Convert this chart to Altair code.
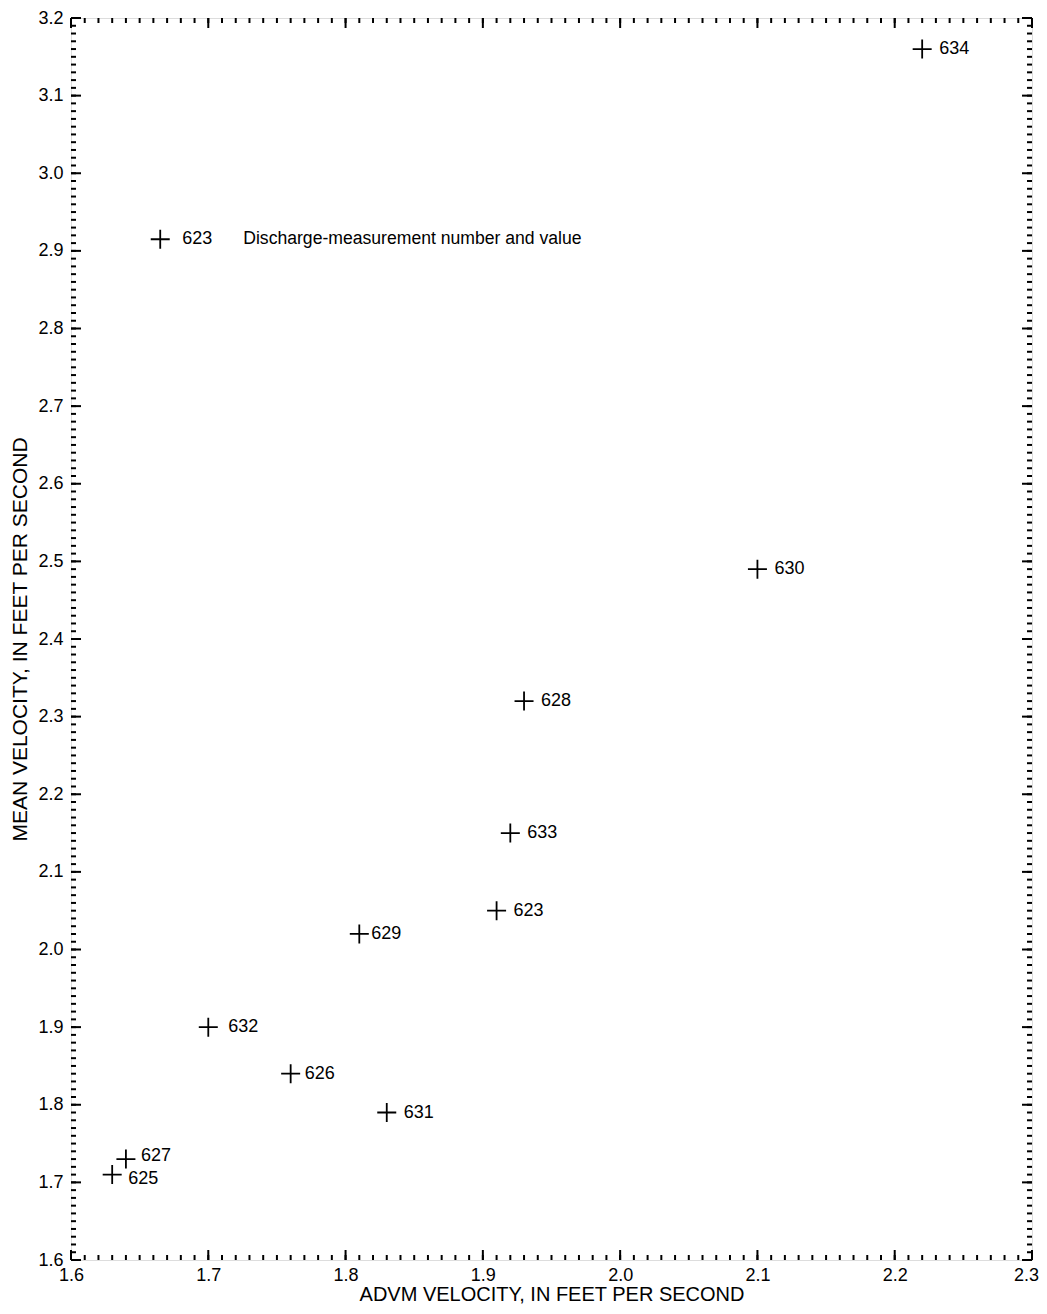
import altair as alt
import pandas as pd

# Discharge measurements
meas_id = ["634", "630", "628", "633", "623", "629", "632", "626", "631", "627", "625"]
advm_vel = [2.22, 2.10, 1.93, 1.92, 1.91, 1.81, 1.70, 1.76, 1.83, 1.64, 1.63]
mean_vel = [3.16, 2.49, 2.32, 2.15, 2.05, 2.02, 1.90, 1.84, 1.79, 1.73, 1.71]

# Explanation (legend) entry
legend_id = ["623"]
legend_x = [1.665]
legend_y = [2.915]
legend_text = ["Discharge-measurement number and value"]

# Axis ticks
x_major = [round(1.6 + 0.1 * i, 2) for i in range(8)]
x_minor = [round(1.6 + 0.01 * i, 2) for i in range(71)]
y_major = [round(1.6 + 0.1 * i, 2) for i in range(17)]
y_minor = [round(1.6 + 0.01 * i, 2) for i in range(161)]

W, H = 961, 1242
FONT = "Liberation Sans"

df = pd.DataFrame({"id": meas_id, "x": advm_vel, "y": mean_vel})
leg = pd.DataFrame({"id": legend_id, "x": legend_x, "y": legend_y, "txt": legend_text})

xs = alt.Scale(domain=[1.6, 2.3], nice=False, zero=False)
ys = alt.Scale(domain=[1.6, 3.2], nice=False, zero=False)

cross = "M-1,0H1M0,-1V1"

xaxis = alt.Axis(values=x_major, format=".1f", ticks=False, tickSize=0, domain=False, grid=False,
                 labelFlush=False, labelFontSize=18, labelFont=FONT, labelColor="black",
                 labelOffset={"expr": "datum.value > 2.25 ? -6 : 0"},
                 labelPadding=6, title="ADVM VELOCITY, IN FEET PER SECOND",
                 titleFont=FONT, titleFontSize=20, titleFontWeight="normal", titleColor="black",
                 titlePadding=0)
yaxis = alt.Axis(values=y_major, format=".1f", ticks=False, tickSize=0, domain=False, grid=False,
                 labelFlush=False, labelFontSize=18, labelFont=FONT, labelColor="black",
                 labelPadding=8, title="MEAN VELOCITY, IN FEET PER SECOND",
                 titleFont=FONT, titleFontSize=21, titleFontWeight="normal", titleColor="black",
                 titlePadding=7)

def X(f):
    return alt.X(f, scale=xs, axis=xaxis)

def Y(f):
    return alt.Y(f, scale=ys, axis=yaxis)

base = alt.Chart(df)
points = base.mark_point(shape=cross, size=361, strokeWidth=1.8, color="black", filled=False, opacity=1).encode(
    x=X("x:Q"), y=Y("y:Q"))

def labels(ids, dx, dy=0):
    return base.transform_filter(
        alt.FieldOneOfPredicate(field="id", oneOf=ids)
    ).mark_text(align="left", baseline="middle", dx=dx, dy=dy, fontSize=18, font=FONT, color="black").encode(
        x=X("x:Q"), y=Y("y:Q"), text="id:N")

lab_layers = [
    labels(["634", "630", "628", "633", "623", "631"], 17),
    labels(["632"], 20),
    labels(["629"], 12),
    labels(["626"], 14),
    labels(["627"], 15, -3),
    labels(["625"], 16, 4),
]

lbase = alt.Chart(leg)
leg_pt = lbase.mark_point(shape=cross, size=361, strokeWidth=1.8, color="black", filled=False, opacity=1).encode(
    x=X("x:Q"), y=Y("y:Q"))
leg_id = lbase.mark_text(align="left", baseline="middle", dx=22, fontSize=18, font=FONT, color="black").encode(
    x=X("x:Q"), y=Y("y:Q"), text="id:N")
leg_txt = lbase.mark_text(align="left", baseline="middle", dx=83, fontSize=17.6, font=FONT, color="black").encode(
    x=X("x:Q"), y=Y("y:Q"), text="txt:N")

def xticks(vals, L):
    d = alt.Chart(pd.DataFrame({"v": vals}))
    bottom = d.mark_rule(color="black", strokeWidth=2).encode(
        x=X("v:Q"), y=alt.value(H), y2=alt.value(H - L))
    top = d.mark_rule(color="black", strokeWidth=2).encode(
        x=X("v:Q"), y=alt.value(0), y2=alt.value(L))
    return [bottom, top]

def yticks(vals, L):
    d = alt.Chart(pd.DataFrame({"v": vals}))
    left = d.mark_rule(color="black", strokeWidth=2).encode(
        y=Y("v:Q"), x=alt.value(0), x2=alt.value(L))
    right = d.mark_rule(color="black", strokeWidth=2).encode(
        y=Y("v:Q"), x=alt.value(W), x2=alt.value(W - L))
    return [left, right]

tick_layers = xticks(x_minor, 5) + xticks(x_major, 10) + yticks(y_minor, 5) + yticks(y_major, 10)

chart = alt.layer(points, *lab_layers, leg_pt, leg_id, leg_txt, *tick_layers).properties(
    width=W, height=H,
    autosize=alt.AutoSizeParams(type="none"),
    padding={"left": 63, "top": 10, "right": 7, "bottom": 46},
).configure_view(stroke="black", strokeWidth=2.5).configure(background="white")

chart.save("out.html", embed_options={"renderer": "svg", "actions": False})
